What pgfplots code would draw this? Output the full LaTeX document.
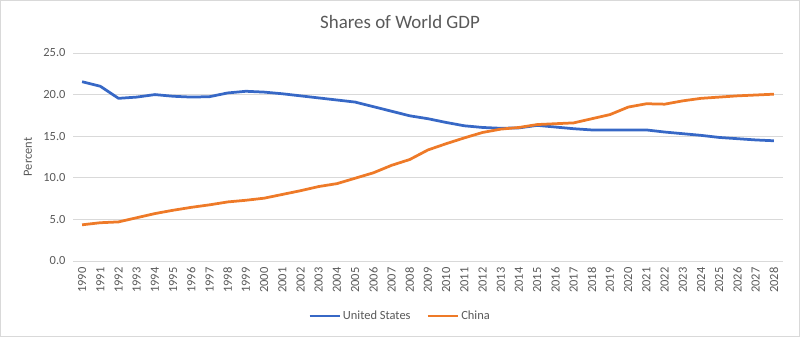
\documentclass[border=0pt]{standalone}
\usepackage{pgfplots}
\pgfplotsset{compat=1.18}
\usepackage{fontspec}
\setmainfont{Carlito}
\definecolor{usblue}{HTML}{3768C6}
\definecolor{cnorange}{HTML}{EE7A28}
\definecolor{txtgray}{HTML}{595959}
\definecolor{gridgray}{HTML}{D9D9D9}
\begin{document}
\begin{tikzpicture}
\useasboundingbox (0,0) rectangle (800bp,337bp);
\draw[gridgray, line width=0.8bp] (0.5bp,0.5bp) rectangle (799.5bp,336.5bp);
\node[font=\fontsize{19}{22}\selectfont, text=txtgray] at (400bp,315bp) {Shares of World GDP};
\begin{axis}[
  at={(73bp,76bp)}, anchor=south west,
  scale only axis, width=710bp, height=208bp,
  xmin=1989.5, xmax=2028.5, ymin=0, ymax=25,
  xtick={1990,...,2028}, ytick={0,5,...,25},
  /pgf/number format/assume math mode=true,
  x tick label style={rotate=90, anchor=east, /pgf/number format/1000 sep={}, font=\fontsize{12.5}{14}\selectfont, text=txtgray},
  y tick label style={/pgf/number format/.cd, fixed, fixed zerofill, precision=1, /tikz/.cd, font=\fontsize{12.5}{14}\selectfont, text=txtgray},
  major tick length=0pt,
  xticklabel shift=3bp, yticklabel shift=4bp,
  ymajorgrids, grid style={gridgray, line width=0.8bp},
  axis x line*=bottom, axis y line*=left,
  x axis line style={gridgray, line width=0.8bp, -},
  y axis line style={draw=none},
  ylabel={Percent},
  every axis y label/.style={at={(axis description cs:-0.0634,0.5)}, rotate=90, anchor=center, font=\fontsize{12.5}{14}\selectfont, text=txtgray},
  legend columns=2,
  legend style={at={(327bp,-55bp)}, anchor=center, draw=none, font=\fontsize{12.5}{14}\selectfont, text=txtgray, /tikz/every even column/.append style={column sep=14bp}},
  legend image code/.code={\draw[#1, line width=2.75bp] (0bp,0bp) -- (30bp,0bp);},
]
\addplot[usblue, line width=2.75bp] coordinates {
(1990,21.55) (1991,21.0) (1992,19.55) (1993,19.7) (1994,20.0) (1995,19.8) (1996,19.7) (1997,19.75) (1998,20.2) (1999,20.4)
(2000,20.3) (2001,20.1) (2002,19.85) (2003,19.6) (2004,19.35) (2005,19.1) (2006,18.55) (2007,18.0) (2008,17.45) (2009,17.1)
(2010,16.65) (2011,16.25) (2012,16.05) (2013,15.95) (2014,16.0) (2015,16.3) (2016,16.1) (2017,15.9) (2018,15.75) (2019,15.75)
(2020,15.75) (2021,15.75) (2022,15.5) (2023,15.3) (2024,15.1) (2025,14.85) (2026,14.7) (2027,14.55) (2028,14.45)
};
\addlegendentry{United States}
\addplot[cnorange, line width=2.75bp] coordinates {
(1990,4.35) (1991,4.6) (1992,4.7) (1993,5.2) (1994,5.7) (1995,6.1) (1996,6.45) (1997,6.75) (1998,7.1) (1999,7.3)
(2000,7.55) (2001,8.0) (2002,8.45) (2003,8.95) (2004,9.3) (2005,9.95) (2006,10.6) (2007,11.5) (2008,12.2) (2009,13.35)
(2010,14.1) (2011,14.8) (2012,15.45) (2013,15.85) (2014,16.05) (2015,16.4) (2016,16.5) (2017,16.6) (2018,17.1) (2019,17.6)
(2020,18.5) (2021,18.9) (2022,18.85) (2023,19.25) (2024,19.55) (2025,19.7) (2026,19.85) (2027,19.95) (2028,20.05)
};
\addlegendentry{China}
\end{axis}
\end{tikzpicture}
\end{document}
